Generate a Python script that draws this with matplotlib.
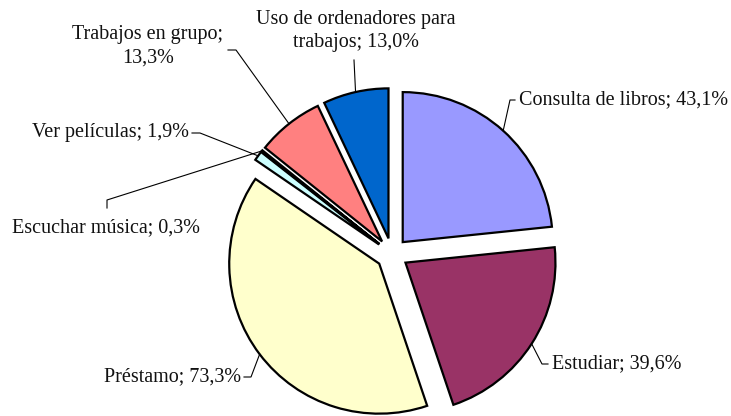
import matplotlib
matplotlib.use("Agg")
import matplotlib.pyplot as plt
import numpy as np

plt.rcParams['font.family'] = ['Liberation Serif', 'DejaVu Serif']

# datos
labels = ["Consulta de libros", "Estudiar", "Préstamo", "Ver películas",
          "Escuchar música", "Trabajos en grupo", "Uso de ordenadores para trabajos"]
values = [43.1, 39.6, 73.3, 1.9, 0.3, 13.3, 13.0]
colors = ["#9999FF", "#993366", "#FFFFCC", "#CCFFFF", "#660066", "#FF8080", "#0066CC"]
label_txt = ["Consulta de libros; 43,1%", "Estudiar; 39,6%", "Préstamo; 73,3%",
             "Ver películas; 1,9%", "Escuchar música; 0,3%",
             "Trabajos en grupo;\n13,3%", "Uso de ordenadores para\ntrabajos; 13,0%"]

W, H = 731, 416
fig = plt.figure(figsize=(W / 100, H / 100), dpi=100)
ax = fig.add_axes([0, 0, 1, 1])

wedges, _ = ax.pie(values, colors=colors, startangle=90, counterclock=False,
                   explode=[16] * len(values), radius=150, center=(392, H - 254),
                   wedgeprops=dict(edgecolor="black", linewidth=1.6))

ax.set_xlim(0, W)
ax.set_ylim(0, H)
ax.set_aspect("equal")
ax.axis("off")

# (x texto, y texto, ha, puntos del conector) en pixeles desde arriba
layout = [
    (519, 100, "left", [(515, 100), (510, 100)]),
    (552, 364, "left", [(548, 364), (542, 364)]),
    (241, 377, "right", [(244, 377), (251, 377)]),
    (189, 133, "right", [(192, 133), (200, 133)]),
    (12, 228, "left", [(107, 208), (107, 200)]),
    (148, 46, "center", [(228, 50), (236, 50)]),
    (356, 31, "center", [(354, 60)]),
]

for w, txt, (tx, ty, ha, pts) in zip(wedges, label_txt, layout):
    ax.text(tx, H - ty, txt, ha=ha, va="center", fontsize=14.5, linespacing=1.3,
            color="#111111")
    th = np.deg2rad((w.theta1 + w.theta2) / 2)
    cx, cy = w.center
    ex, ey = cx + w.r * np.cos(th), cy + w.r * np.sin(th)
    xs = [p[0] for p in pts] + [ex]
    ys = [H - p[1] for p in pts] + [ey]
    ax.plot(xs, ys, color="black", lw=0.8)

plt.savefig("out.png", dpi=100)
